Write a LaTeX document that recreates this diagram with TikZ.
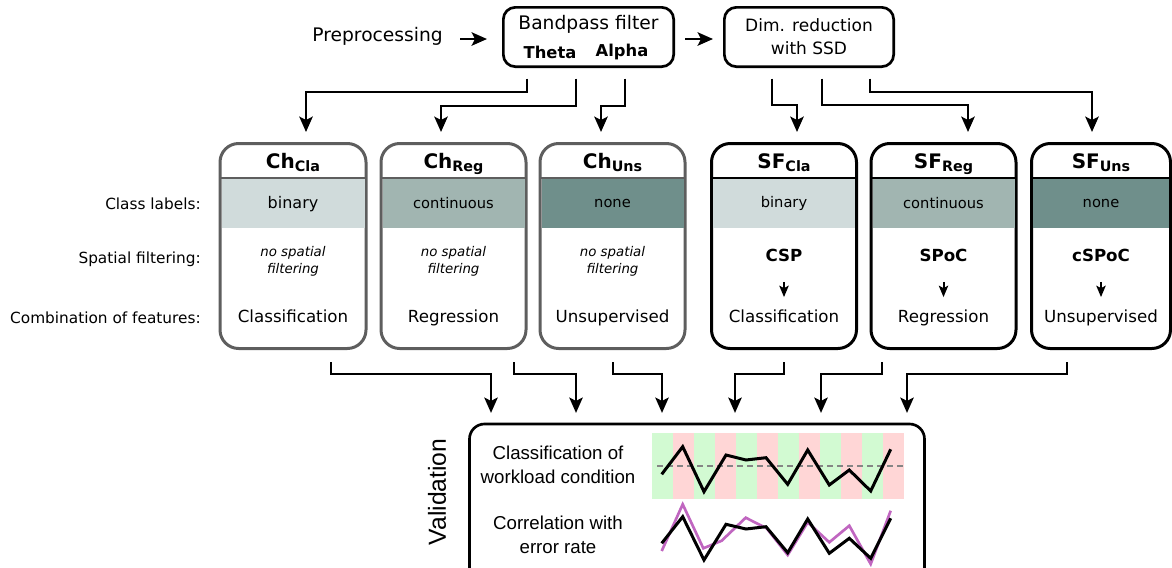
\documentclass[tikz,border=0pt]{standalone}
\usepackage{fontspec}
\setmainfont{DejaVu Sans}
\newfontfamily\lib{Liberation Sans}
\usetikzlibrary{arrows.meta}
\definecolor{chgray}{HTML}{5E5E5E}
\definecolor{bandA}{HTML}{D0DBDB}
\definecolor{bandB}{HTML}{A1B5B1}
\definecolor{bandC}{HTML}{6F8F8B}
\definecolor{stripeG}{HTML}{D2FAD2}
\definecolor{stripeR}{HTML}{FFD6D6}
\definecolor{purp}{HTML}{C066C0}
\definecolor{dashgray}{HTML}{858585}
\tikzset{
  conn/.style={line width=2pt, -{Stealth[length=11.5pt,width=10pt,inset=2.5pt]}},
  smallarr/.style={line width=1.5pt, -{Stealth[length=8.5pt,width=7pt,inset=1.8pt]}},
  topbox/.style={draw, rectangle, rounded corners=9pt, line width=2pt, inner sep=0, minimum height=44.5pt},
  fbase/.style={rectangle, rounded corners=14pt, line width=2.25pt, minimum height=153.75pt, inner sep=0, fill=white},
  lbl/.style={inner sep=0, font=\fontsize{11.5pt}{13pt}\selectfont, anchor=east},
  ttl/.style={inner sep=0, anchor=base},
  bandtxt/.style={inner sep=0, font=\fontsize{11pt}{13pt}\selectfont},
  nosf/.style={inner sep=0, align=center, font=\fontsize{10pt}{12.75pt}\selectfont\itshape},
  meth/.style={inner sep=0, font=\fontsize{12.5pt}{15pt}\selectfont\bfseries, text height=9pt, text depth=3pt},
  comb/.style={inner sep=0, font=\fontsize{12.5pt}{15pt}\selectfont, text height=9pt, text depth=3pt},
  valtxt/.style={inner sep=0, align=center, font=\lib\fontsize{14pt}{18pt}\selectfont},
  plotline/.style={line width=2.25pt, line join=miter},
}
\newcommand\featbox[5]{%
  \node[fbase, draw=#4, minimum width={(2*#3-3)*0.75pt}] (#1) at (#2,246) {};
  \fill[#5] ({#2-#3+3},178) rectangle ({#2+#3-3},228);
  \draw[#4, line width=1.8pt] ({#2-#3+1.5},178) -- ({#2+#3-1.5},178);
}
\newcommand\ttltext[2]{{\fontsize{15pt}{17pt}\selectfont\bfseries #1\raisebox{-2.5pt}{\fontsize{10.75pt}{12pt}\selectfont\bfseries #2}}}
\begin{document}
\begin{tikzpicture}[x=0.75pt, y=-0.75pt]
\useasboundingbox (0,0) rectangle (1172,568);
\clip (0,0) rectangle (1172,568);

% ---------- top row ----------
\node[inner sep=0, anchor=east, font=\fontsize{14pt}{17pt}\selectfont] (prep) at (443,36) {Preprocessing};
\node[topbox, minimum width=127.75pt] (bp) at (588.5,37) {};
\node[inner sep=0, font=\fontsize{14pt}{17pt}\selectfont] (bptxt) at (588.5,24) {Bandpass filter};
\node[inner sep=0, font=\fontsize{12.25pt}{14pt}\selectfont\bfseries] (theta) at (550,52) {Theta};
\node[inner sep=0, font=\fontsize{12.25pt}{14pt}\selectfont\bfseries] (alpha) at (622,52) {Alpha};
\node[topbox, minimum width=127pt] (dim) at (809,37) {};
\node[inner sep=0, align=center, font=\fontsize{12.75pt}{17.25pt}\selectfont] (dimtxt) at (809,36.5) {Dim. reduction\\with SSD};

\draw[conn, shorten <=12.75pt, shorten >=11.25pt] (prep.east |- 0,39) -- (bp.west |- 0,39);
\draw[conn, shorten <=7.5pt, shorten >=7.5pt] (bp.east |- 0,39) -- (dim.west |- 0,39);

% ---------- row labels ----------
\node[lbl] (lclass) at (201,204) {Class labels:};
\node[lbl] (lspat) at (201,259) {Spatial filtering:};
\node[lbl] (lcomb) at (201,318) {Combination of features:};

% ---------- feature boxes ----------
\featbox{chcla}{293}{74.5}{chgray}{bandA}
\featbox{chreg}{453.5}{74}{chgray}{bandB}
\featbox{chuns}{612.5}{74}{chgray}{bandC}
\featbox{sfcla}{784}{74}{black}{bandA}
\featbox{sfreg}{943.5}{74}{black}{bandB}
\featbox{sfuns}{1101}{71}{black}{bandC}

\node[ttl] (chclat) at (293,168) {\ttltext{Ch}{Cla}};
\node[ttl] (chregt) at (453.5,168) {\ttltext{Ch}{Reg}};
\node[ttl] (chunst) at (612.5,168) {\ttltext{Ch}{Uns}};
\node[ttl] (sfclat) at (784,168) {\ttltext{SF}{Cla}};
\node[ttl] (sfregt) at (943.5,168) {\ttltext{SF}{Reg}};
\node[ttl] (sfunst) at (1101,168) {\ttltext{SF}{Uns}};

\node[inner sep=0, font=\fontsize{12pt}{14pt}\selectfont] (chclab) at (293,204) {binary};
\node[bandtxt] (chregb) at (453.5,203) {continuous};
\node[bandtxt] (chunsb) at (612.5,203) {none};
\node[bandtxt] (sfclab) at (784,203) {binary};
\node[bandtxt] (sfregb) at (943.5,203) {continuous};
\node[bandtxt] (sfunsb) at (1101,203) {none};

\node[nosf] (chclas) at (293,261.5) {no spatial\\filtering};
\node[nosf] (chregs) at (453.5,261.5) {no spatial\\filtering};
\node[nosf] (chunss) at (612.5,261.5) {no spatial\\filtering};
\node[meth] (sfclam) at (784,257) {CSP};
\node[meth] (sfregm) at (943.5,257) {SPoC};
\node[meth] (sfunsm) at (1101,257) {cSPoC};

\node[comb] (chclac) at (293,318) {Classification};
\node[comb] (chregc) at (453.5,318) {Regression};
\node[comb] (chunsc) at (612.5,318) {Unsupervised};
\node[comb] (sfclac) at (784,318) {Classification};
\node[comb] (sfregc) at (943.5,318) {Regression};
\node[comb] (sfunsc) at (1101,318) {Unsupervised};

\foreach \m/\c in {sfclam/sfclac, sfregm/sfregc, sfunsm/sfunsc}
  \draw[smallarr] ([yshift=-12.5pt]\m.south) -- ([yshift=9.5pt]\c.north);

% ---------- connectors from top boxes ----------
\draw[conn, shorten <=8pt, shorten >=7.5pt] (bp.south -| 527,0) -- (527,92) -| (chcla.north -| 306,0);
\draw[conn, shorten <=8pt, shorten >=7.5pt] (bp.south -| 576,0) -- (576,106) -| (chreg.north -| 441,0);
\draw[conn, shorten <=8pt, shorten >=7.5pt] (bp.south -| 625,0) -- (625,106) -| (chuns.north -| 601,0);
\draw[conn, shorten <=8pt, shorten >=7.5pt] (dim.south -| 772,0) -- (772,105) -| (sfcla.north -| 797,0);
\draw[conn, shorten <=8pt, shorten >=7.5pt] (dim.south -| 822,0) -- (822,105) -| (sfreg.north -| 968,0);
\draw[conn, shorten <=8pt, shorten >=7.5pt] (dim.south -| 870,0) -- (870,92) -| (sfuns.north -| 1092,0);

% ---------- validation ----------
\node[draw, line width=2pt, rounded corners=11.25pt, minimum width=341.25pt, minimum height=132pt, inner sep=0] (valid) at (697,512) {};

\draw[conn, shorten <=9pt, shorten >=7.3pt] (chcla.south -| 331,0) -- (331,374) -| (valid.north -| 491,0);
\draw[conn, shorten <=9pt, shorten >=7.3pt] (chreg.south -| 514,0) -- (514,374) -| (valid.north -| 576,0);
\draw[conn, shorten <=9pt, shorten >=7.3pt] (chuns.south -| 613,0) -- (613,374) -| (valid.north -| 662,0);
\draw[conn, shorten <=9pt, shorten >=7.3pt] (sfcla.south -| 784,0) -- (784,374) -| (valid.north -| 735,0);
\draw[conn, shorten <=9pt, shorten >=7.3pt] (sfreg.south -| 882,0) -- (882,374) -| (valid.north -| 821,0);
\draw[conn, shorten <=9pt, shorten >=7.3pt] (sfuns.south -| 1067,0) -- (1067,374) -| (valid.north -| 907,0);

\node[rotate=90, inner sep=0, font=\lib\fontsize{18.5pt}{22pt}\selectfont] (vallab) at (437,492) {Validation};
\node[valtxt] (vclass) at (558,465) {Classification of\\workload condition};
\node[valtxt] (vcorr) at (558,534.5) {Correlation with\\error rate};

% stripes
\foreach \i in {0,2,...,10} \fill[stripeG] ({652+\i*21},433) rectangle ({652+(\i+1)*21},499);
\foreach \i in {1,3,...,11} \fill[stripeR] ({652+\i*21},433) rectangle ({652+(\i+1)*21},499);
\draw[dashgray, line width=1.9pt, dash pattern=on 4.5pt off 3pt] (657,466) -- (903,466);
\draw[plotline] plot coordinates {(661.7,474.3) (682.7,446.7) (704,491.7) (726,455) (746,460) (766,457.7) (787.7,484.3) (807.7,450) (829.3,485) (849.3,470) (870.7,491) (890.7,449.3)};
\draw[plotline, purp, line width=2pt] plot coordinates {(661.7,551) (682.7,504.3) (703.3,548.3) (721.7,540.7) (745.7,517.7) (766.7,528.3) (787.7,555) (807.7,522.3) (829.3,542.3) (849.3,525.7) (870.7,564) (890.7,510.7)};
\draw[plotline] plot coordinates {(661.7,543.3) (682.7,516.7) (704,560) (726,524.3) (746,529) (766,526.7) (787.7,552.7) (807.7,519) (829.3,553.3) (849.3,538.3) (870.7,558.3) (890.7,518.3)};
\end{tikzpicture}
\end{document}
